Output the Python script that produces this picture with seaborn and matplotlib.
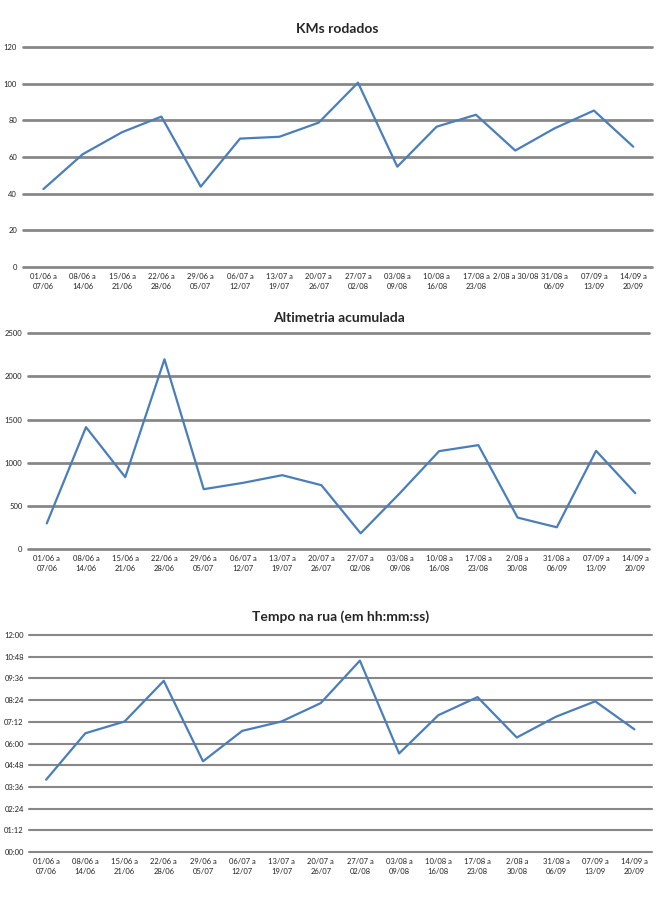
import numpy as np
import pandas as pd
import matplotlib
matplotlib.use("Agg")
import matplotlib.pyplot as plt
import seaborn as sb

# weekly data
semanas = ["01/06 a\n07/06", "08/06 a\n14/06", "15/06 a\n21/06", "22/06 a\n28/06",
           "29/06 a\n05/07", "06/07 a\n12/07", "13/07 a\n19/07", "20/07 a\n26/07",
           "27/07 a\n02/08", "03/08 a\n09/08", "10/08 a\n16/08", "17/08 a\n23/08",
           "2/08 a\n30/08", "31/08 a\n06/09", "07/09 a\n13/09", "14/09 a\n20/09"]
# first chart shows this one label squashed on one line
semanas_km = semanas.copy()
semanas_km[12] = "2/08 a 30/08"

km = [42.5, 61.5, 73.5, 82, 43.8, 70, 71, 78.7, 100.5, 54.7, 76.5, 83, 63.5, 75.6, 85.3, 65.6]
altimetria = [300, 1414, 835, 2199, 696, 769, 858, 742, 185, 650, 1136, 1206, 367, 255, 1140, 649]
# time on the road, in minutes
tempo_min = [240, 394, 433, 568, 301, 402, 433, 494, 635, 327, 454, 514, 380, 449, 500, 407]

km_ticks = [0, 20, 40, 60, 80, 100, 120]
alt_ticks = [0, 500, 1000, 1500, 2000, 2500]
tempo_ticks = [0, 72, 144, 216, 288, 360, 432, 504, 576, 648, 720]

df = pd.DataFrame({"pos": np.arange(len(semanas)), "km": km,
                   "alt": altimetria, "tempo": tempo_min})

sb.set_style("white")
plt.rcParams['font.family'] = ['Lato', 'DejaVu Sans']

blue = "#4a7ebb"
grey = "#878787"

fig = plt.figure(figsize=(6.65, 9.02), dpi=100)
ax1 = fig.add_axes([0.034, 0.704, 0.946, 0.244])
ax2 = fig.add_axes([0.042, 0.391, 0.934, 0.2395])
ax3 = fig.add_axes([0.044, 0.0554, 0.936, 0.2406])


def style_axes(ax, col, ticks, ticklabels, xlabels, title, title_pad, xlim, grid_w):
    sb.lineplot(data=df, x="pos", y=col, ax=ax, color=blue, linewidth=1.6)
    ax.set_ylim(ticks[0], ticks[-1])
    ax.set_xlim(*xlim)
    ax.set_yticks(ticks)
    ax.set_yticklabels(ticklabels, fontsize=5.5, color="#222222")
    ax.set_xticks(df["pos"])
    ax.set_xticklabels(xlabels, fontsize=5.5, color="#222222", linespacing=1.6)
    ax.tick_params(length=0, pad=4)
    ax.set_xlabel("")
    ax.set_ylabel("")
    for s in ax.spines.values():
        s.set_visible(False)
    for t in ticks:
        ax.axhline(t, color=grey, linewidth=grid_w, zorder=0, clip_on=False)
    ax.set_title(title, fontsize=10, fontweight="bold", pad=title_pad)


style_axes(ax1, "km", km_ticks, [str(t) for t in km_ticks], semanas_km,
           "KMs rodados", 10, (-0.53, 15.47), 2.0)
style_axes(ax2, "alt", alt_ticks, [str(t) for t in alt_ticks], semanas,
           "Altimetria acumulada", 8, (-0.48, 15.35), 2.0)
style_axes(ax3, "tempo", tempo_ticks, ["%02d:%02d" % (t // 60, t % 60) for t in tempo_ticks],
           semanas, "Tempo na rua (em hh:mm:ss)", 10, (-0.43, 15.44), 1.5)

plt.savefig("out.png", dpi=100)
